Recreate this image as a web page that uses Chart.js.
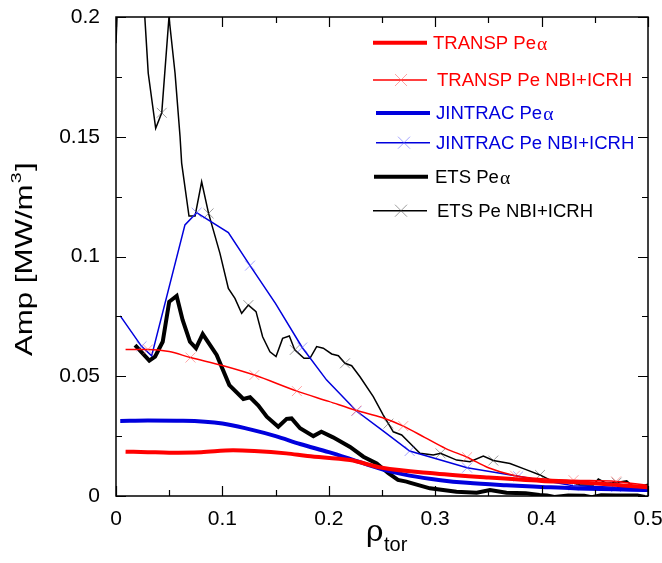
<!DOCTYPE html>
<html>
<head>
<meta charset="utf-8">
<script src="https://cdn.jsdelivr.net/npm/chart.js@4.4.0/dist/chart.umd.min.js"></script>
<style>
  body { margin: 0; background: #fff; }
  #wrap { width: 662px; height: 563px; }
</style>
</head>
<body>
<div id="wrap"><canvas id="myChart" width="662" height="563"></canvas></div>
<script>
// x ticks / y ticks
var rhoTicks = [0, 0.1, 0.2, 0.3, 0.4, 0.5];
var ampTicks = [0, 0.05, 0.1, 0.15, 0.2];

// TRANSP Pe alpha (thick red)
var transpAlphaRho = [0.009, 0.03, 0.05, 0.08, 0.11, 0.13, 0.16, 0.18, 0.22, 0.25, 0.3, 0.35, 0.4, 0.43, 0.5];
var transpAlphaAmp = [0.0185, 0.0183, 0.0181, 0.0183, 0.0191, 0.0188, 0.0178, 0.0167, 0.015, 0.0118, 0.0094, 0.0077, 0.0063, 0.0058, 0.0036];

// TRANSP Pe NBI+ICRH (thin red, x markers)
var transpNbiRho = [0.009, 0.03, 0.05, 0.07, 0.1, 0.13, 0.17, 0.2, 0.226, 0.25, 0.27, 0.29, 0.31, 0.33, 0.35, 0.375, 0.4, 0.43, 0.47, 0.5];
var transpNbiAmp = [0.0612, 0.0612, 0.0603, 0.0578, 0.0545, 0.0505, 0.0438, 0.0395, 0.0357, 0.0328, 0.0292, 0.0245, 0.0198, 0.0162, 0.0118, 0.0085, 0.0072, 0.0066, 0.0061, 0.0044];
var transpNbiMarks = [1, 3, 5, 6, 8, 10, 13, 15, 17, 18];

// JINTRAC Pe alpha (thick blue)
var jintracAlphaRho = [0.004, 0.03, 0.063, 0.1, 0.126, 0.15, 0.173, 0.2, 0.22, 0.251, 0.276, 0.305, 0.33, 0.367, 0.4, 0.43, 0.5];
var jintracAlphaAmp = [0.0313, 0.0315, 0.0314, 0.0303, 0.0278, 0.025, 0.0217, 0.0183, 0.0155, 0.011, 0.0085, 0.0066, 0.0055, 0.0045, 0.0038, 0.0032, 0.0025];

// JINTRAC Pe NBI+ICRH (thin blue, x markers)
var jintracNbiRho = [0.004, 0.024, 0.0335, 0.0648, 0.0758, 0.1056, 0.126, 0.15, 0.175, 0.198, 0.226, 0.251, 0.276, 0.305, 0.33, 0.378, 0.43, 0.47, 0.5];
var jintracNbiAmp = [0.0752, 0.0625, 0.0585, 0.1132, 0.1183, 0.11, 0.0962, 0.0803, 0.062, 0.0484, 0.0355, 0.0272, 0.0188, 0.015, 0.0118, 0.0082, 0.0043, 0.0037, 0.0032];
var jintracNbiMarks = [1, 4, 6, 8, 10, 12, 14, 15, 16, 17];

// ETS Pe alpha (thick black)
var etsAlphaRho = [0.0179, 0.0313, 0.0367, 0.0439, 0.05, 0.057, 0.0626, 0.0695, 0.0752, 0.0815, 0.0946, 0.1065, 0.1197, 0.126, 0.1338, 0.1417, 0.1525, 0.1604, 0.165, 0.173, 0.1855, 0.193, 0.204, 0.22, 0.2325, 0.245, 0.256, 0.265, 0.273, 0.276, 0.295, 0.32, 0.339, 0.3515, 0.367, 0.385, 0.398, 0.405, 0.412, 0.425, 0.44, 0.447, 0.456, 0.47, 0.49, 0.497];
var etsAlphaAmp = [0.063, 0.0565, 0.0582, 0.0644, 0.0811, 0.0835, 0.0735, 0.0644, 0.0617, 0.0676, 0.0589, 0.0463, 0.0405, 0.0412, 0.0378, 0.0331, 0.0289, 0.0322, 0.0324, 0.0283, 0.025, 0.0268, 0.0245, 0.0205, 0.0164, 0.0136, 0.0095, 0.0067, 0.006, 0.0056, 0.0032, 0.0018, 0.0014, 0.0025, 0.0014, 0.0012, 0.0004, 0.0002, -0.0004, 0.0002, 0.0001, -0.0005, 0.0003, 0.0002, 0.0002, -0.0004];

// ETS Pe NBI+ICRH (thin black, x markers)
var etsNbiRho = [0.0, 0.003, 0.015, 0.025, 0.0303, 0.0373, 0.043, 0.0498, 0.0555, 0.0602, 0.0617, 0.0686, 0.0743, 0.0805, 0.087, 0.0977, 0.1056, 0.1118, 0.1181, 0.1244, 0.1316, 0.1378, 0.1447, 0.1504, 0.1566, 0.1629, 0.168, 0.1767, 0.1823, 0.1886, 0.1948, 0.2027, 0.209, 0.2152, 0.2215, 0.2293, 0.2418, 0.2512, 0.256, 0.2606, 0.2685, 0.2763, 0.2857, 0.2982, 0.305, 0.3202, 0.3327, 0.3452, 0.3546, 0.3703, 0.386, 0.3985, 0.411, 0.4236, 0.436, 0.4486, 0.4533, 0.4611, 0.4705, 0.48, 0.486, 0.494, 0.5];
var etsNbiAmp = [0.189, 0.225, 0.24, 0.215, 0.1765, 0.1535, 0.16, 0.2, 0.1765, 0.15, 0.139, 0.1169, 0.1169, 0.1312, 0.118, 0.1013, 0.0867, 0.0825, 0.0763, 0.0797, 0.077, 0.0665, 0.0602, 0.0582, 0.0658, 0.0668, 0.061, 0.0575, 0.0575, 0.0624, 0.0617, 0.0593, 0.0586, 0.0554, 0.0544, 0.0498, 0.0415, 0.0338, 0.0302, 0.0268, 0.0255, 0.022, 0.0178, 0.0171, 0.0178, 0.015, 0.0143, 0.0167, 0.0148, 0.0136, 0.0109, 0.0088, 0.006, 0.0063, 0.0046, 0.0046, 0.0071, 0.0053, 0.0056, 0.0063, 0.0039, 0.0042, 0.0049];
var etsNbiMarks = [6, 14, 19, 26, 33, 38, 44, 48, 51, 58];

var seriesNames = ["TRANSP Pe\u03b1", "TRANSP Pe NBI+ICRH", "JINTRAC Pe\u03b1", "JINTRAC Pe NBI+ICRH", "ETS Pe\u03b1", "ETS Pe NBI+ICRH"];

var RED = "#ff0000", BLUE = "#0000dd", BLACK = "#000000";
var SANS = "'Liberation Sans', Arial, sans-serif";

function pts(rho, amp){
  return rho.map(function(r, i){ return {x: r, y: amp[i]}; });
}

function thick(label, rho, amp, color, smooth){
  return {
    label: label, data: pts(rho, amp), borderColor: color, borderWidth: 4,
    pointRadius: 0, clip: 0, cubicInterpolationMode: smooth ? 'monotone' : 'default'
  };
}

function thin(label, rho, amp, marks, color, markColor, smooth){
  return {
    label: label, data: pts(rho, amp), borderColor: color, borderWidth: 1.5,
    pointStyle: 'crossRot', pointBorderWidth: 1, pointBorderColor: markColor,
    pointBackgroundColor: markColor,
    pointRadius: function(c){ return marks.indexOf(c.dataIndex) >= 0 ? 7 : 0; },
    pointHoverRadius: 0, clip: 0, cubicInterpolationMode: smooth ? 'monotone' : 'default'
  };
}

var datasets = [
  thick(seriesNames[0], transpAlphaRho, transpAlphaAmp, RED, true),
  thin(seriesNames[1], transpNbiRho, transpNbiAmp, transpNbiMarks, RED, "rgba(255,90,90,0.55)", true),
  thick(seriesNames[2], jintracAlphaRho, jintracAlphaAmp, BLUE, true),
  thin(seriesNames[3], jintracNbiRho, jintracNbiAmp, jintracNbiMarks, BLUE, "rgba(90,90,255,0.55)", false),
  thick(seriesNames[4], etsAlphaRho, etsAlphaAmp, BLACK, false),
  thin(seriesNames[5], etsNbiRho, etsNbiAmp, etsNbiMarks, BLACK, "rgba(60,60,60,0.5)", false)
];

function tickText(v){ return String(parseFloat(v.toFixed(3))); }

//frame with inward ticks, axis titles, legend
var decorPlugin = {
  id: 'decor',
  afterDraw: function(chart){
    var ctx = chart.ctx, a = chart.chartArea;
    var xs = chart.scales.x, ys = chart.scales.y;
    ctx.save();
    ctx.strokeStyle = "#000";
    ctx.lineWidth = 1.5;
    ctx.strokeRect(a.left, a.top, a.right - a.left, a.bottom - a.top);
    ctx.beginPath();
    for (var i = 0; i <= 10; i++){
      var px = Math.round(xs.getPixelForValue(i * 0.05)) + 0.5;
      var len = i % 2 === 0 ? 10 : 6;
      ctx.moveTo(px, a.bottom); ctx.lineTo(px, a.bottom - len);
      ctx.moveTo(px, a.top); ctx.lineTo(px, a.top + len);
    }
    for (var j = 0; j <= 8; j++){
      var py = Math.round(ys.getPixelForValue(j * 0.025)) + 0.5;
      var l2 = j % 2 === 0 ? 10 : 6;
      ctx.moveTo(a.left, py); ctx.lineTo(a.left + l2, py);
      ctx.moveTo(a.right, py); ctx.lineTo(a.right - l2, py);
    }
    ctx.lineWidth = 1.2;
    ctx.stroke();

    // y title
    ctx.fillStyle = "#000";
    ctx.save();
    ctx.translate(32, (a.top + a.bottom) / 2 + 4);
    ctx.rotate(-Math.PI / 2);
    ctx.scale(1.3, 1);
    var t1 = "Amp [MW/m", t2 = "3", t3 = "]";
    ctx.font = "24px " + SANS;
    var w1 = ctx.measureText(t1).width, w3 = ctx.measureText(t3).width;
    ctx.font = "15px " + SANS;
    var w2 = ctx.measureText(t2).width;
    var x0 = -(w1 + w2 + w3) / 2;
    ctx.textBaseline = "alphabetic";
    ctx.font = "24px " + SANS;
    ctx.fillText(t1, x0, 0);
    ctx.font = "15px " + SANS;
    ctx.fillText(t2, x0 + w1 + 1, -11);
    ctx.font = "24px " + SANS;
    ctx.fillText(t3, x0 + w1 + w2 + 2, 0);
    ctx.restore();

    // x title
    ctx.textBaseline = "alphabetic";
    ctx.font = "30px 'DejaVu Serif', serif";
    ctx.fillText("\u03c1", 366, 541);
    ctx.font = "20px " + SANS;
    ctx.fillText("tor", 384, 551);

    // legend
    var rows = [42.7, 80, 113, 142.7, 176.7, 210.7];
    var colors = [RED, RED, BLUE, BLUE, BLACK, BLACK];
    var lineX = [373, 373, 376, 376, 374, 373];
    var textX = [433, 437, 436, 436, 435, 437];
    for (var k = 0; k < 6; k++){
      var ds = chart.data.datasets[k];
      var y = rows[k];
      ctx.strokeStyle = colors[k];
      ctx.lineWidth = ds.borderWidth;
      ctx.beginPath();
      ctx.moveTo(lineX[k], y); ctx.lineTo(lineX[k] + 54, y);
      ctx.stroke();
      if (k % 2 === 1){
        ctx.strokeStyle = ds.pointBorderColor;
        ctx.lineWidth = 1;
        var cx = lineX[k] + 28, r = 6;
        ctx.beginPath();
        ctx.moveTo(cx - r, y - r); ctx.lineTo(cx + r, y + r);
        ctx.moveTo(cx - r, y + r); ctx.lineTo(cx + r, y - r);
        ctx.stroke();
      }
      ctx.fillStyle = colors[k];
      ctx.textBaseline = "middle";
      var name = seriesNames[k];
      ctx.save();
      ctx.translate(textX[k], y + 1);
      ctx.scale(1.03, 1);
      if (name.slice(-1) === "\u03b1"){
        ctx.font = "18px " + SANS;
        var base = name.slice(0, -1);
        ctx.fillText(base, 0, 0);
        var bw = ctx.measureText(base).width;
        ctx.font = "19px 'Liberation Serif', serif";
        ctx.fillText("\u03b1", bw + 1, 1);
      } else {
        ctx.font = "18px " + SANS;
        ctx.fillText(name, 0, 0);
      }
      ctx.restore();
    }
    ctx.restore();
  }
};

var ctx = document.getElementById("myChart").getContext("2d");
var chart = new Chart(ctx, {
  type: 'line',
  data: { datasets: datasets },
  plugins: [decorPlugin],
  options: {
    responsive: false,
    animation: false,
    layout: { padding: { top: 17, right: 14, left: 0, bottom: 0 } },
    plugins: { legend: { display: false }, tooltip: { enabled: false } },
    scales: {
      x: {
        type: 'linear', min: 0, max: 0.5,
        afterBuildTicks: function(s){ s.ticks = rhoTicks.map(function(v){ return {value: v}; }); },
        afterFit: function(s){ s.height = 67; s.paddingLeft = 0; s.paddingRight = 0; },
        grid: { display: false, drawTicks: false },
        border: { display: false },
        ticks: { color: "#000", padding: 11, maxRotation: 0, font: { family: SANS, size: 21 },
                 callback: function(v){ return tickText(v); } }
      },
      y: {
        type: 'linear', min: 0, max: 0.2,
        afterBuildTicks: function(s){ s.ticks = ampTicks.map(function(v){ return {value: v}; }); },
        afterFit: function(s){ s.width = 116; s.paddingTop = 0; s.paddingBottom = 0; },
        grid: { display: false, drawTicks: false },
        border: { display: false },
        ticks: { color: "#000", padding: 16, font: { family: SANS, size: 21 },
                 callback: function(v){ return tickText(v); } }
      }
    }
  }
});
</script>
</body>
</html>
